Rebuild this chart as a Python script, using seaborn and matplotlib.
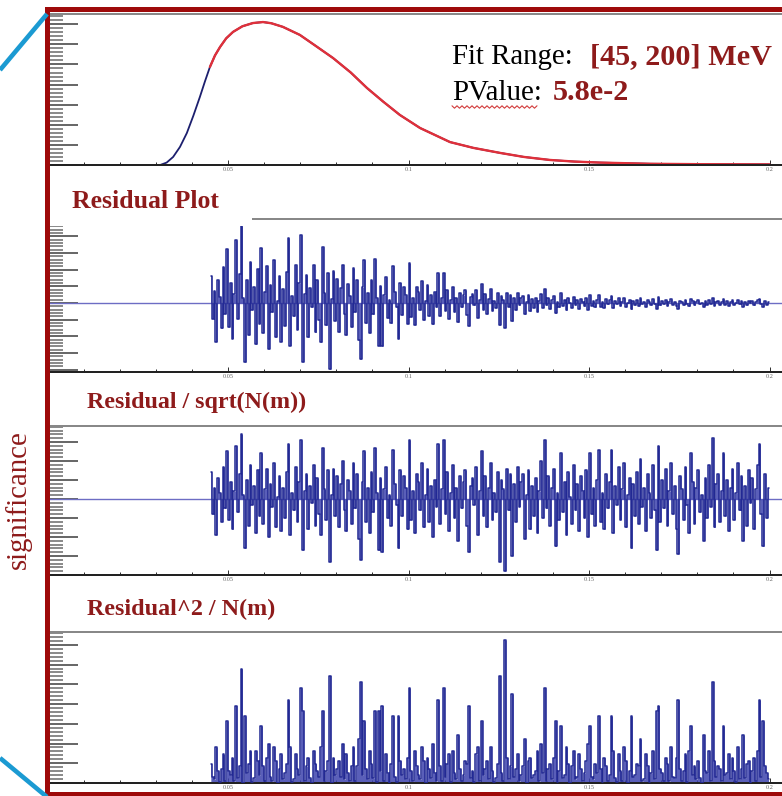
import numpy as np
import pandas as pd
import matplotlib
matplotlib.use("Agg")
import matplotlib.pyplot as plt
import seaborn as sns
from matplotlib.ticker import FixedLocator, MultipleLocator, AutoMinorLocator
from matplotlib.patches import Rectangle
from matplotlib.lines import Line2D

# ---------------- data ----------------
# fitted mass spectrum N(m), m in GeV, arbitrary units (1 unit = 1 major tick)
fit_x = [0.0300, 0.0312, 0.0330, 0.0348, 0.0367, 0.0386, 0.0404, 0.0422, 0.0436,
         0.0450, 0.0464, 0.0478, 0.0495, 0.0514, 0.0540, 0.0569, 0.0597, 0.0620,
         0.0652, 0.0699, 0.0740, 0.0791, 0.0840, 0.0885, 0.0930, 0.0976, 0.1032,
         0.1115, 0.1180, 0.1254, 0.1320, 0.1392, 0.1460, 0.1530, 0.1669, 0.1810,
         0.2000]
fit_y = [0.00, 0.00, 0.12, 0.40, 0.90, 1.59, 2.45, 3.38, 4.15,
         4.88, 5.45, 5.87, 6.30, 6.62, 6.90, 7.06, 7.11, 7.05,
         6.87, 6.47, 5.96, 5.32, 4.60, 3.83, 3.15, 2.49, 1.84,
         1.14, 0.85, 0.60, 0.40, 0.25, 0.17, 0.12, 0.06, 0.04,
         0.03]
fit_start = 0.045          # fit range [45, 200] MeV
fit_stop = 0.200
bin_width = 0.0005

# Residual / sqrt(N(m)) per 0.5 MeV bin between 45 and 200 MeV
significance = [
    1.4, -0.8, 0.6, -1.9, 1.1, 0.3, -1.2, 1.7, -0.5, 2.5,
    -1.1, 0.9, -1.6, 0.4, 2.8, -0.7, 1.3, 3.4, 0.2, -2.6,
    1.0, -1.4, 1.8, -0.3, 0.7, -1.8, 1.5, -0.9, 2.4, -1.3,
    0.5, 1.6, -2.0, 0.8, -0.4, 1.9, -1.5, 0.1, 1.2, -1.7,
    0.6, -1.0, 1.4, 2.9, -1.9, 0.3, -0.6, 1.7, -1.2, 0.9,
    3.1, -2.7, 0.4, 1.3, -1.6, 0.7, -0.2, 1.8, -1.4, 1.1,
    -0.8, -1.9, 2.7, 0.5, -1.1, 1.5, -3.3, 0.2, 1.6, -0.9,
    1.2, -1.5, 0.8, 2.0, -0.6, -1.7, 1.0, 0.4, -1.3, 1.9,
    -0.5, 1.3, -2.1, -3.2, 0.9, 2.5, -1.2, 0.6, -1.8, 1.4,
    -0.7, 2.7, 0.3, -2.7, 1.1, -2.8, 0.5, 1.7, -1.0, 0.2,
    -1.4, 2.6, 0.8, -0.3, -2.6, 1.5, -0.9, 1.2, 0.6, -1.6,
    3.1, -1.1, 0.4, -1.8, 1.3, 0.9, -0.6, 1.9, -1.5, 0.2,
    1.6, -1.2, 0.7, -2.0, 1.0, -0.4, 2.9, -1.3, 0.5, 3.1,
    -0.8, 1.4, -1.7, 0.3, 1.8, -1.0, 0.6, -2.2, 1.2, -0.5,
    0.9, 1.5, -1.4, -2.8, 0.7, 1.1, -0.3, 1.7, -1.9, 0.4,
    2.5, -0.9, 1.2, -1.5, 0.6, 1.9, -1.1, 0.3, -0.7, 1.4,
    -3.3, 1.0, 0.5, -3.8, 1.6, -0.6, 1.3, -3.0, 0.8, -1.2,
    1.7, -0.4, 0.9, 1.3, -2.1, 0.2, 1.5, -1.6, 0.7, -0.9,
    1.1, -1.8, 0.4, 2.0, -1.0, 3.1, -0.5, 1.2, -1.4, 0.6,
    1.6, -2.5, 0.3, -1.1, 2.4, -0.7, 0.9, -1.9, 1.4, 0.1,
    -1.3, 1.8, -0.6, 0.8, -1.7, 1.2, 0.4, -1.0, 1.5, -2.0,
    2.4, -0.8, 0.6, -1.4, 1.0, 2.6, -1.2, 0.3, -1.6, 1.3,
    -0.5, 0.9, 2.6, -1.8, 0.7, -0.3, 1.7, -1.1, 0.5, 1.9,
    -1.5, 0.2, 1.1, -2.6, 0.8, -0.9, 1.4, -1.3, 2.1, -0.4,
    0.6, -1.7, 1.3, 0.3, -1.0, 1.8, -0.6, -2.7, 2.8, -1.2,
    1.0, -0.5, 1.6, -1.4, 0.4, 1.9, -0.8, 0.7, -1.6, -2.9,
    1.2, 0.5, -1.1, 1.7, -0.3, -1.8, 2.4, 0.9, -1.3, 0.6,
    1.5, -0.7, 0.2, -2.2, 1.1, -1.0, 1.8, -0.4, 3.2, -1.5,
    0.8, 1.3, -1.2, 0.4, 2.4, -0.9, 1.0, -1.7, 0.6, 1.6,
    -1.1, 0.3, 1.9, -0.6, 1.2, -2.2, 0.7, -1.4, 1.5, -0.2,
    1.1, -1.6, 0.5, 1.8, 2.9, -0.8, -2.5, 1.3, -1.0, 0.6,
]
residual_scale = 1.38   # residual axis units per unit of significance at the peak

tick_values = [0.05, 0.1, 0.15, 0.2]
tick_labels = ["0.05", "0.1", "0.15", "0.2"]

# ---------------- derived tables ----------------
sig = np.array(significance)
centers = fit_start + bin_width * (np.arange(len(sig)) + 0.5)
n_at = np.interp(centers, fit_x, fit_y)
df = pd.DataFrame({
    "m": centers,
    "sig": sig,
    "resid": sig * residual_scale * np.sqrt(n_at / max(fit_y)),
    "sig2": sig ** 2,
})
fit_df = pd.DataFrame({"m": fit_x, "N": fit_y})
fit_red = fit_df[fit_df["m"] >= fit_start]

# ---------------- figure ----------------
sns.set_style("white")
plt.rcParams['font.family'] = ['Liberation Serif', 'DejaVu Serif']

W, H = 782, 796
fig = plt.figure(figsize=(W / 100, H / 100), dpi=100)
fig.patch.set_facecolor("white")

PT = 0.72  # points per pixel at 100 dpi


def fx(px):
    return px / W


def fy(py):
    return 1 - py / H


X0_PX = 47.5
PX_PER_GEV = 3610.0
XMAX = (W - X0_PX) / PX_PER_GEV

BLUE = "#222993"
FILL = "#3d43ad"
NAVY = "#1c1f6e"
DARKRED = "#8e1b1b"
FRAME_RED = "#9e0a0a"


def make_ax(top_px, bottom_px, ylim, major):
    ax = fig.add_axes([fx(X0_PX), fy(bottom_px), 1 - fx(X0_PX), (bottom_px - top_px) / H])
    ax.set_xlim(0, XMAX)
    ax.set_ylim(*ylim)
    ax.xaxis.set_major_locator(FixedLocator(tick_values))
    ax.set_xticklabels(tick_labels)
    ax.xaxis.set_minor_locator(MultipleLocator(0.01))
    ax.yaxis.set_major_locator(MultipleLocator(major))
    ax.yaxis.set_minor_locator(AutoMinorLocator(5))
    ax.tick_params(axis="x", which="major", direction="in", length=5 * PT, width=1.0 * PT,
                   color="#333333", labelsize=4.5, labelcolor="#666666", pad=1.5,
                   bottom=True, top=False)
    ax.tick_params(axis="x", which="minor", direction="in", length=3 * PT, width=1.0 * PT,
                   color="#333333", bottom=True, top=False)
    ax.tick_params(axis="y", which="major", direction="in", length=30 * PT, width=1.6 * PT,
                   color="#444444", left=True, right=False, labelleft=False)
    ax.tick_params(axis="y", which="minor", direction="in", length=15 * PT, width=1.5 * PT,
                   color="#666666", left=True, right=False)
    for s in ("left", "right"):
        ax.spines[s].set_visible(False)
    ax.spines["top"].set_color("#888888")
    ax.spines["top"].set_linewidth(2.0 * PT)
    ax.spines["bottom"].set_color("#222222")
    ax.spines["bottom"].set_linewidth(2.0 * PT)
    ax.set_facecolor("white")
    return ax


def clear_labels(ax):
    ax.set_xlabel("")
    ax.set_ylabel("")


# Panel 1: spectrum with fit
ax1 = make_ax(14, 165, (0, 7.51), 1)
sns.lineplot(data=fit_df, x="m", y="N", ax=ax1, color=NAVY, lw=1.3)
sns.lineplot(data=fit_red, x="m", y="N", ax=ax1, color="#e0303a", lw=1.7)
clear_labels(ax1)

# Panel 2: residual
ax2 = make_ax(219, 372, (-4.13, 5.03), 1)
ax2.plot([0, XMAX], [0, 0], color="#6d6dc4", lw=1.0, zorder=1)
ax2.fill_between(df["m"], df["resid"], step="mid", color=FILL, alpha=0.85, lw=0, zorder=2)
sns.lineplot(data=df, x="m", y="resid", ax=ax2, color=BLUE, lw=1.1,
             drawstyle="steps-mid", zorder=3)
clear_labels(ax2)

# Panel 3: residual / sqrt(N)
ax3 = make_ax(426, 575, (-4.0, 3.84), 1)
ax3.plot([0, XMAX], [0, 0], color="#6d6dc4", lw=1.0, zorder=1)
ax3.fill_between(df["m"], df["sig"], step="mid", color=FILL, alpha=0.85, lw=0, zorder=2)
sns.lineplot(data=df, x="m", y="sig", ax=ax3, color=BLUE, lw=1.1,
             drawstyle="steps-mid", zorder=3)
clear_labels(ax3)

# Panel 4: residual^2 / N
ax4 = make_ax(632, 783, (0, 15.3), 2)
ax4.fill_between(df["m"], df["sig2"], step="mid", color=FILL, alpha=0.85, lw=0, zorder=2)
sns.lineplot(data=df, x="m", y="sig2", ax=ax4, color=BLUE, lw=1.1,
             drawstyle="steps-mid", zorder=3)
clear_labels(ax4)

# ---------------- slide decorations ----------------
# white title box covering the top of panel 2
fig.add_artist(Rectangle((fx(50), fy(226)), fx(252) - fx(50), (226 - 178) / H,
                         transform=fig.transFigure, facecolor="white",
                         edgecolor="none", zorder=5))

title_kw = dict(color=DARKRED, fontweight="bold", va="baseline", ha="left", zorder=6)
fig.text(fx(72), fy(208), "Residual Plot", fontsize=18.5, **title_kw)
fig.text(fx(87), fy(408), "Residual / sqrt(N(m))", fontsize=17.3, **title_kw)
fig.text(fx(87), fy(615), "Residual^2 / N(m)", fontsize=17.4, **title_kw)

fig.text(fx(452), fy(64), "Fit Range:", color="black", fontsize=20.8, va="baseline",
         ha="left", zorder=6)
fig.text(fx(590), fy(64), "[45, 200] MeV", color=DARKRED, fontsize=21.8,
         fontweight="bold", va="baseline", ha="left", zorder=6)
fig.text(fx(452), fy(100), "PValue:", color="black", fontsize=20.8, va="baseline",
         ha="left", zorder=6)
fig.text(fx(553), fy(100), "5.8e-2", color=DARKRED, fontsize=21.8,
         fontweight="bold", va="baseline", ha="left", zorder=6)

# spell-check squiggle under "PValue"
wx = np.arange(452, 538, 2.5)
wy = 107 + np.where(np.arange(len(wx)) % 2 == 0, -1.2, 1.2)
fig.add_artist(Line2D(fx(wx), fy(wy), transform=fig.transFigure,
                      color="#d23a3a", lw=0.8, zorder=6))

fig.text(fx(18), fy(500), "significance", color=DARKRED, fontsize=20.8,
         rotation=90, ha="center", va="center", zorder=6)

# red frame
fig.add_artist(Rectangle((fx(45), fy(796)), fx(5), (796 - 7) / H,
                         transform=fig.transFigure, facecolor=FRAME_RED,
                         edgecolor="none", zorder=7))
fig.add_artist(Rectangle((fx(45), fy(12)), 1 - fx(45), 5 / H,
                         transform=fig.transFigure, facecolor=FRAME_RED,
                         edgecolor="none", zorder=7))
fig.add_artist(Rectangle((fx(45), fy(796)), 1 - fx(45), 4 / H,
                         transform=fig.transFigure, facecolor=FRAME_RED,
                         edgecolor="none", zorder=7))

# blue zoom lines
fig.add_artist(Line2D([fx(0), fx(47)], [fy(70), fy(14)], transform=fig.transFigure,
                      color="#1b9ad2", lw=3.3, zorder=8, solid_capstyle="butt"))
fig.add_artist(Line2D([fx(0), fx(47)], [fy(758), fy(797)], transform=fig.transFigure,
                      color="#1b9ad2", lw=3.3, zorder=8, solid_capstyle="butt"))

fig.savefig("out.png", dpi=100, facecolor="white")
